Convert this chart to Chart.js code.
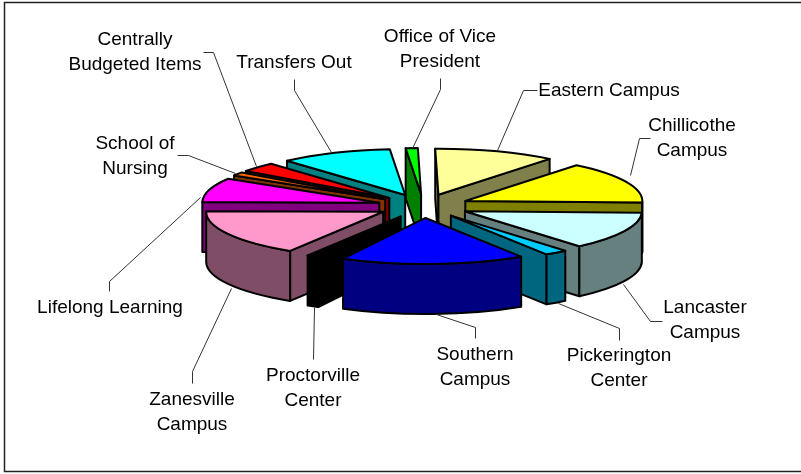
<!DOCTYPE html>
<html>
<head>
<meta charset="utf-8">
<title>Exploded pie</title>
<style>
    html, body { margin: 0; padding: 0; background: #fff; }
    canvas { display: block; }
</style>
<script src="https://cdn.jsdelivr.net/npm/chart.js@4"></script>
</head>
<body>
<canvas id="chart" width="801" height="474"></canvas>
<script>
// Labels, one entry per line of text
const categories = [
    ['Office of Vice', 'President'],
    ['Eastern Campus'],
    ['Chillicothe', 'Campus'],
    ['Lancaster', 'Campus'],
    ['Pickerington', 'Center'],
    ['Southern', 'Campus'],
    ['Proctorville', 'Center'],
    ['Zanesville', 'Campus'],
    ['Lifelong Learning'],
    ['School of', 'Nursing'],
    ['Centrally', 'Budgeted Items'],
    ['Transfers Out']
];

// Share of the pie in percent
const shares = [1.1, 11.1, 14.7, 13.3, 2.1, 16.8, 1.1, 16.4, 8.5, 1.25, 3.4, 10.25];

const topColors = ['#00ff00', '#ffff99', '#ffff00', '#ccffff', '#00ccff', '#0000ff',
    '#000000', '#ff99cc', '#ff00ff', '#ff6600', '#ff0000', '#00ffff'];
const sideColors = ['#008000', '#80804d', '#808000', '#668080', '#006680', '#000080',
    '#000000', '#804d66', '#800080', '#803300', '#800000', '#008080'];

// Where the callouts sit: label centre x, first line centre y, leader polyline
const labelX = [440, 609, 692, 705, 619, 475, 313, 192, 110, 135, 135, 294];
const labelY = [37, 91, 126, 308, 356, 355, 376, 400, 308, 144, 40, 63];
const leaders = [
    [[440, 78], [440, 89], [412, 148]],
    [[537, 90], [523, 90], [497, 150]],
    [[650, 138], [639, 138], [630, 175]],
    [[662, 321], [650, 321], [623, 284]],
    [[619, 340], [619, 328], [558, 303]],
    [[475, 338], [475, 327], [436, 314]],
    [[313, 359], [314, 307]],
    [[192, 383], [192, 371], [231, 288]],
    [[109, 291], [109, 281], [200, 197]],
    [[177, 155], [188, 155], [235, 173]],
    [[203, 52], [213, 52], [256, 166]],
    [[294, 79], [294, 90], [331, 152]]
];

const TILT = 0.26;    // vertical squash of the pie disc
const DEPTH = 50;     // height of the extruded wall
const LINE_HEIGHT = 24.5;

const TWO_PI = Math.PI * 2;

function edgePoint(s, angle) {
    return [s.cx + s.rx * Math.cos(angle), s.cy + s.ry * Math.sin(angle)];
}

function cutFace(ctx, s, angle, color) {
    const p = edgePoint(s, angle);
    ctx.beginPath();
    ctx.moveTo(s.cx, s.cy);
    ctx.lineTo(p[0], p[1]);
    ctx.lineTo(p[0], p[1] + DEPTH);
    ctx.lineTo(s.cx, s.cy + DEPTH);
    ctx.closePath();
    ctx.fillStyle = color;
    ctx.fill();
    ctx.stroke();
}

// Only the part of the rim on the near half of the ellipse can be seen
function outerWall(ctx, s, color) {
    for (const shift of [-TWO_PI, 0, TWO_PI]) {
        const a0 = Math.max(s.start + shift, 0);
        const a1 = Math.min(s.end + shift, Math.PI);
        if (a1 <= a0) continue;
        ctx.beginPath();
        ctx.ellipse(s.cx, s.cy, s.rx, s.ry, 0, a0, a1);
        ctx.ellipse(s.cx, s.cy + DEPTH, s.rx, s.ry, 0, a1, a0, true);
        ctx.closePath();
        ctx.fillStyle = color;
        ctx.fill();
        ctx.stroke();
    }
}

function topFace(ctx, s, color) {
    ctx.beginPath();
    ctx.moveTo(s.cx, s.cy);
    ctx.ellipse(s.cx, s.cy, s.rx, s.ry, 0, s.start, s.end);
    ctx.closePath();
    ctx.fillStyle = color;
    ctx.fill();
    ctx.stroke();
}

// Squashes the arcs the doughnut controller laid out and paints them back to front
const pie3d = {
    id: 'pie3d',
    beforeDatasetsDraw(chart) {
        const ctx = chart.ctx;
        const arcs = chart.getDatasetMeta(0).data;
        const slices = arcs.map((arc, i) => {
            const mid = (arc.startAngle + arc.endAngle) / 2;
            const offset = arc.options.offset;
            return {
                index: i,
                mid,
                start: arc.startAngle,
                end: arc.endAngle,
                cx: arc.x + Math.cos(mid) * offset,
                cy: arc.y + Math.sin(mid) * offset * TILT,
                rx: arc.outerRadius,
                ry: arc.outerRadius * TILT
            };
        });
        slices.sort((a, b) => Math.sin(a.mid) - Math.sin(b.mid));

        ctx.save();
        ctx.lineWidth = 2;
        ctx.lineJoin = 'round';
        ctx.strokeStyle = '#000';
        slices.forEach(s => {
            const side = sideColors[s.index];
            // cut faces turned towards the viewer
            if (Math.cos(s.start) < 0) cutFace(ctx, s, s.start, side);
            if (Math.cos(s.end) > 0) cutFace(ctx, s, s.end, side);
            outerWall(ctx, s, side);
            topFace(ctx, s, topColors[s.index]);
        });
        ctx.restore();
        return false;
    },
    afterDraw(chart) {
        const ctx = chart.ctx;
        ctx.save();
        // frame runs off the right edge of the picture
        ctx.strokeStyle = '#222';
        ctx.lineWidth = 1.5;
        ctx.beginPath();
        ctx.moveTo(801, 2.5);
        ctx.lineTo(4.5, 2.5);
        ctx.lineTo(4.5, 471.5);
        ctx.lineTo(801, 471.5);
        ctx.stroke();
        // leaders
        ctx.strokeStyle = '#333';
        ctx.lineWidth = 1;
        leaders.forEach(line => {
            ctx.beginPath();
            line.forEach((p, i) => i ? ctx.lineTo(p[0] + 0.5, p[1] + 0.5) : ctx.moveTo(p[0] + 0.5, p[1] + 0.5));
            ctx.stroke();
        });
        // labels
        ctx.fillStyle = '#000';
        ctx.font = '19px "Liberation Sans", Arial, sans-serif';
        ctx.textAlign = 'center';
        ctx.textBaseline = 'middle';
        categories.forEach((lines, i) => {
            lines.forEach((text, j) => ctx.fillText(text, labelX[i], labelY[i] + j * LINE_HEIGHT));
        });
        ctx.restore();
    }
};

new Chart(document.getElementById('chart'), {
    type: 'pie',
    data: {
        labels: categories,
        datasets: [{
            data: shares,
            backgroundColor: topColors,
            borderColor: '#000',
            borderWidth: 0,
            offset: 46
        }]
    },
    options: {
        responsive: false,
        animation: false,
        rotation: -5,
        radius: 177,
        layout: { padding: { left: 46, bottom: 62 } },
        plugins: {
            legend: { display: false },
            tooltip: { enabled: false }
        }
    },
    plugins: [pie3d]
});
</script>
</body>
</html>
